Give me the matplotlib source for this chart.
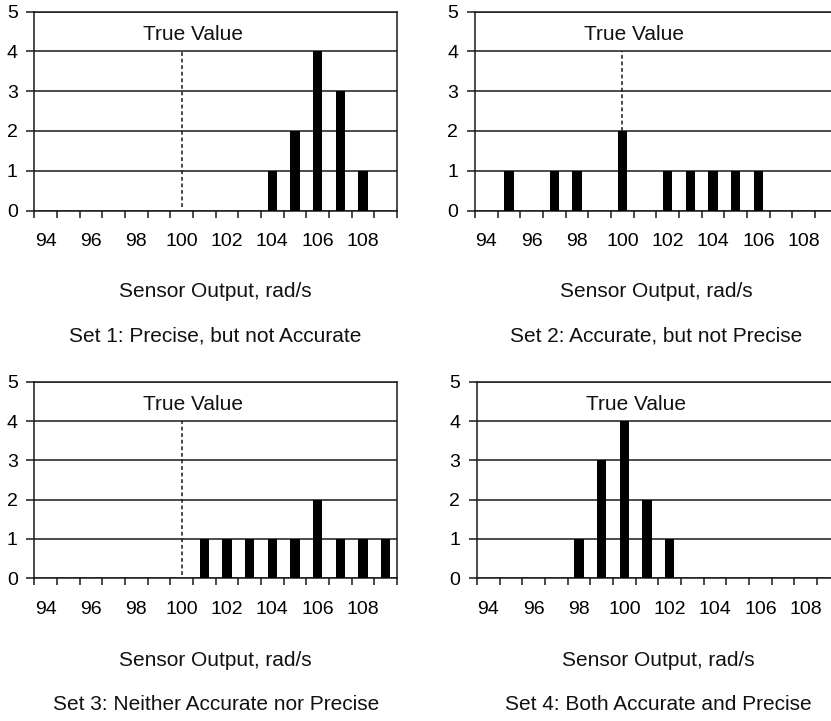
import numpy as np
from matplotlib import pyplot as plt

# sensor output bins (rad/s) and number of readings in each bin
sensor_output = [94, 95, 96, 97, 98, 99, 100, 101, 102, 103, 104, 105, 106, 107, 108, 109]
set1_counts = [0, 0, 0, 0, 0, 0, 0, 0, 0, 0, 1, 2, 4, 3, 1, 0]
set2_counts = [0, 1, 0, 1, 1, 0, 2, 0, 1, 1, 1, 1, 1, 0, 0, 0]
set3_counts = [0, 0, 0, 0, 0, 0, 0, 1, 1, 1, 1, 1, 2, 1, 1, 1]
set4_counts = [0, 0, 0, 0, 1, 3, 4, 2, 1, 0, 0, 0, 0, 0, 0, 0]
tick_labels = [94, 96, 98, 100, 102, 104, 106, 108]
true_value = 100
set_titles = ["Set 1: Precise, but not Accurate",
              "Set 2: Accurate, but not Precise",
              "Set 3: Neither Accurate nor Precise",
              "Set 4: Both Accurate and Precise"]

plt.rcParams['font.family'] = ['Liberation Sans', 'DejaVu Sans']

W, H = 831, 721
fig = plt.figure(figsize=(W / 100, H / 100), dpi=100)

line_col = '#1a1a1a'

# panel boxes in pixels: left, top (y=5), right, bottom (y=0)
boxes = [(34.3, 11.7, 397.0, 210.5),
         (475.0, 11.7, 837.7, 210.5),
         (34.3, 381.7, 397.0, 578.3),
         (477.0, 381.7, 839.7, 578.3)]
label_y = [291, 291, 660, 660]
title_y = [336, 336, 705, 705]
all_counts = [set1_counts, set2_counts, set3_counts, set4_counts]

x = np.array(sensor_output)
for i, (counts, box) in enumerate(zip(all_counts, boxes)):
    l, t, r, b = box
    ax = fig.add_axes([l / W, 1 - b / H, (r - l) / W, (b - t) / H])
    ax.bar(x, counts, width=0.42, color='black', linewidth=0, zorder=3)

    # dashed marker for the true value, from the top of its bar up to 4
    top_at_true = counts[sensor_output.index(true_value)]
    ax.plot([true_value, true_value], [max(top_at_true, 0.08), 4],
            linestyle=(0, (2.5, 1.8)), color=line_col, linewidth=1.1, zorder=2)
    ax.text(true_value + 0.5, 4.42, "True Value", ha='center', va='center',
            fontsize=15, color='#111111', zorder=4)

    ax.set_xlim(x[0] - 0.5, x[-1] + 0.5)
    ax.set_ylim(0, 5)
    ax.set_yticks(range(6))
    ax.yaxis.grid(True, color=line_col, linewidth=1.1, zorder=1)
    ax.set_axisbelow(True)

    # ticks between bins, labels on every other bin
    ax.set_xticks(np.append(x - 0.5, x[-1] + 0.5))
    ax.set_xticklabels([])
    ax.set_xticks(tick_labels, minor=True)
    ax.set_xticklabels([str(v) for v in tick_labels], minor=True)
    ax.tick_params(axis='x', which='major', direction='out', length=5,
                   width=1.1, color=line_col)
    ax.tick_params(axis='x', which='minor', length=0, pad=16, labelsize=14)
    ax.tick_params(axis='y', direction='out', length=6, width=1.1,
                   color=line_col, pad=6, labelsize=14)

    for s in ax.spines.values():
        s.set_color(line_col)
        s.set_linewidth(1.1)

    cx = (l + r) / 2 / W
    fig.text(cx, 1 - label_y[i] / H, "Sensor Output, rad/s", ha='center',
             va='center', fontsize=15, color='#111111')
    fig.text(cx, 1 - title_y[i] / H, set_titles[i], ha='center',
             va='center', fontsize=15, color='#111111')

fig.savefig("out.png", dpi=100)
